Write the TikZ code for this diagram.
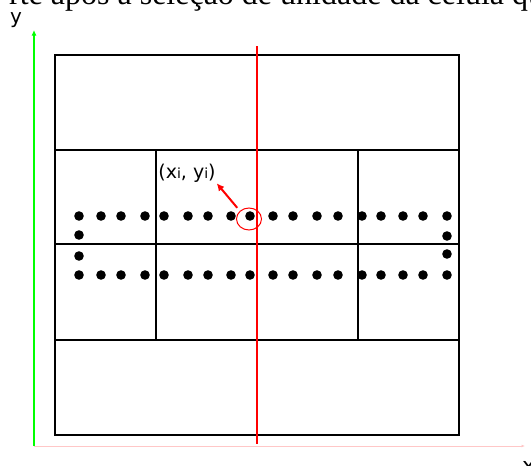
\documentclass[tikz,border=0pt]{standalone}
\usepackage{fontspec}
\setmainfont{Liberation Serif}
\newfontfamily\labelfont{DejaVu Sans}
\usetikzlibrary{arrows.meta,shapes.geometric}
\tikzset{
  cell/.style={draw, line width=2pt},
  cutline/.style={draw=red, line width=2pt},
  yaxis/.style={draw=green, line width=1.1pt, -{Latex[length=2mm, width=1.8mm]}},
  xaxis/.style={draw=red!22, line width=1pt, -{Latex[length=1.2mm, width=1mm]}},
  pick/.style={draw=red, ellipse, line width=1pt, minimum width=25pt, minimum height=22pt, inner sep=0pt},
  pickarrow/.style={draw=red, line width=2pt, -{Latex[length=2.6mm, width=2.6mm]}},
  pt/.style={circle, fill, inner sep=0pt, minimum size=9.6pt},
  lbl/.style={font=\labelfont, inner sep=1pt}
}

\begin{document}
\begin{tikzpicture}[x=1pt,y=-1pt]
\path[use as bounding box, clip] (0,0) rectangle (531,466);

% cropped caption line above the figure
\node[anchor=base west, font=\fontsize{32}{34}\selectfont, inner sep=0pt] (cap) at (9,4) {rte após a seleção de unidade da célula qu};

% axes
\coordinate (o) at (34,446);
\coordinate (ytip) at (34,30);
\coordinate (xtip) at (525,446);
\draw[yaxis] (o) -- (ytip);
\draw[xaxis] (o) -- (xtip);
\node[lbl, font=\labelfont\fontsize{20}{22}\selectfont, anchor=base west] (ylab) at (9,23) {y};
\node[lbl, font=\labelfont\fontsize{22}{24}\selectfont, anchor=base west] (xlab) at (521,473) {x};

% cells
\draw[cell] (55,55) rectangle (459,435);
\draw[cell] (55,150) -- (459,150);
\draw[cell] (55,244) -- (459,244);
\draw[cell] (55,340) -- (459,340);
\draw[cell] (156,150) -- (156,340);
\draw[cell] (358,150) -- (358,340);

% points of the two rows
\foreach \px [count=\i] in {79,101,121,145,164,188,208,231,250,273,293,317,338,362,381,403,423,447} {
  \node[pt] (a\i) at (\px,216) {};
  \node[pt] (b\i) at (\px,275) {};
}
\node[pt] (l1) at (79,235) {};
\node[pt] (l2) at (79,256) {};
\node[pt] (r1) at (447,236) {};
\node[pt] (r2) at (447,254) {};

% cut line
\draw[cutline] (257,46) -- (257,444);

% selected point
\node[pick] (sel) at (249,219) {};
\node[lbl, font=\labelfont\fontsize{19}{21}\selectfont] (xy) at (187,173) {(x{\fontsize{14}{15}\selectfont i}, y{\fontsize{14}{15}\selectfont i})};
\draw[pickarrow, shorten <=4pt] (sel.north west) -- (xy.south east);

\end{tikzpicture}
\end{document}
